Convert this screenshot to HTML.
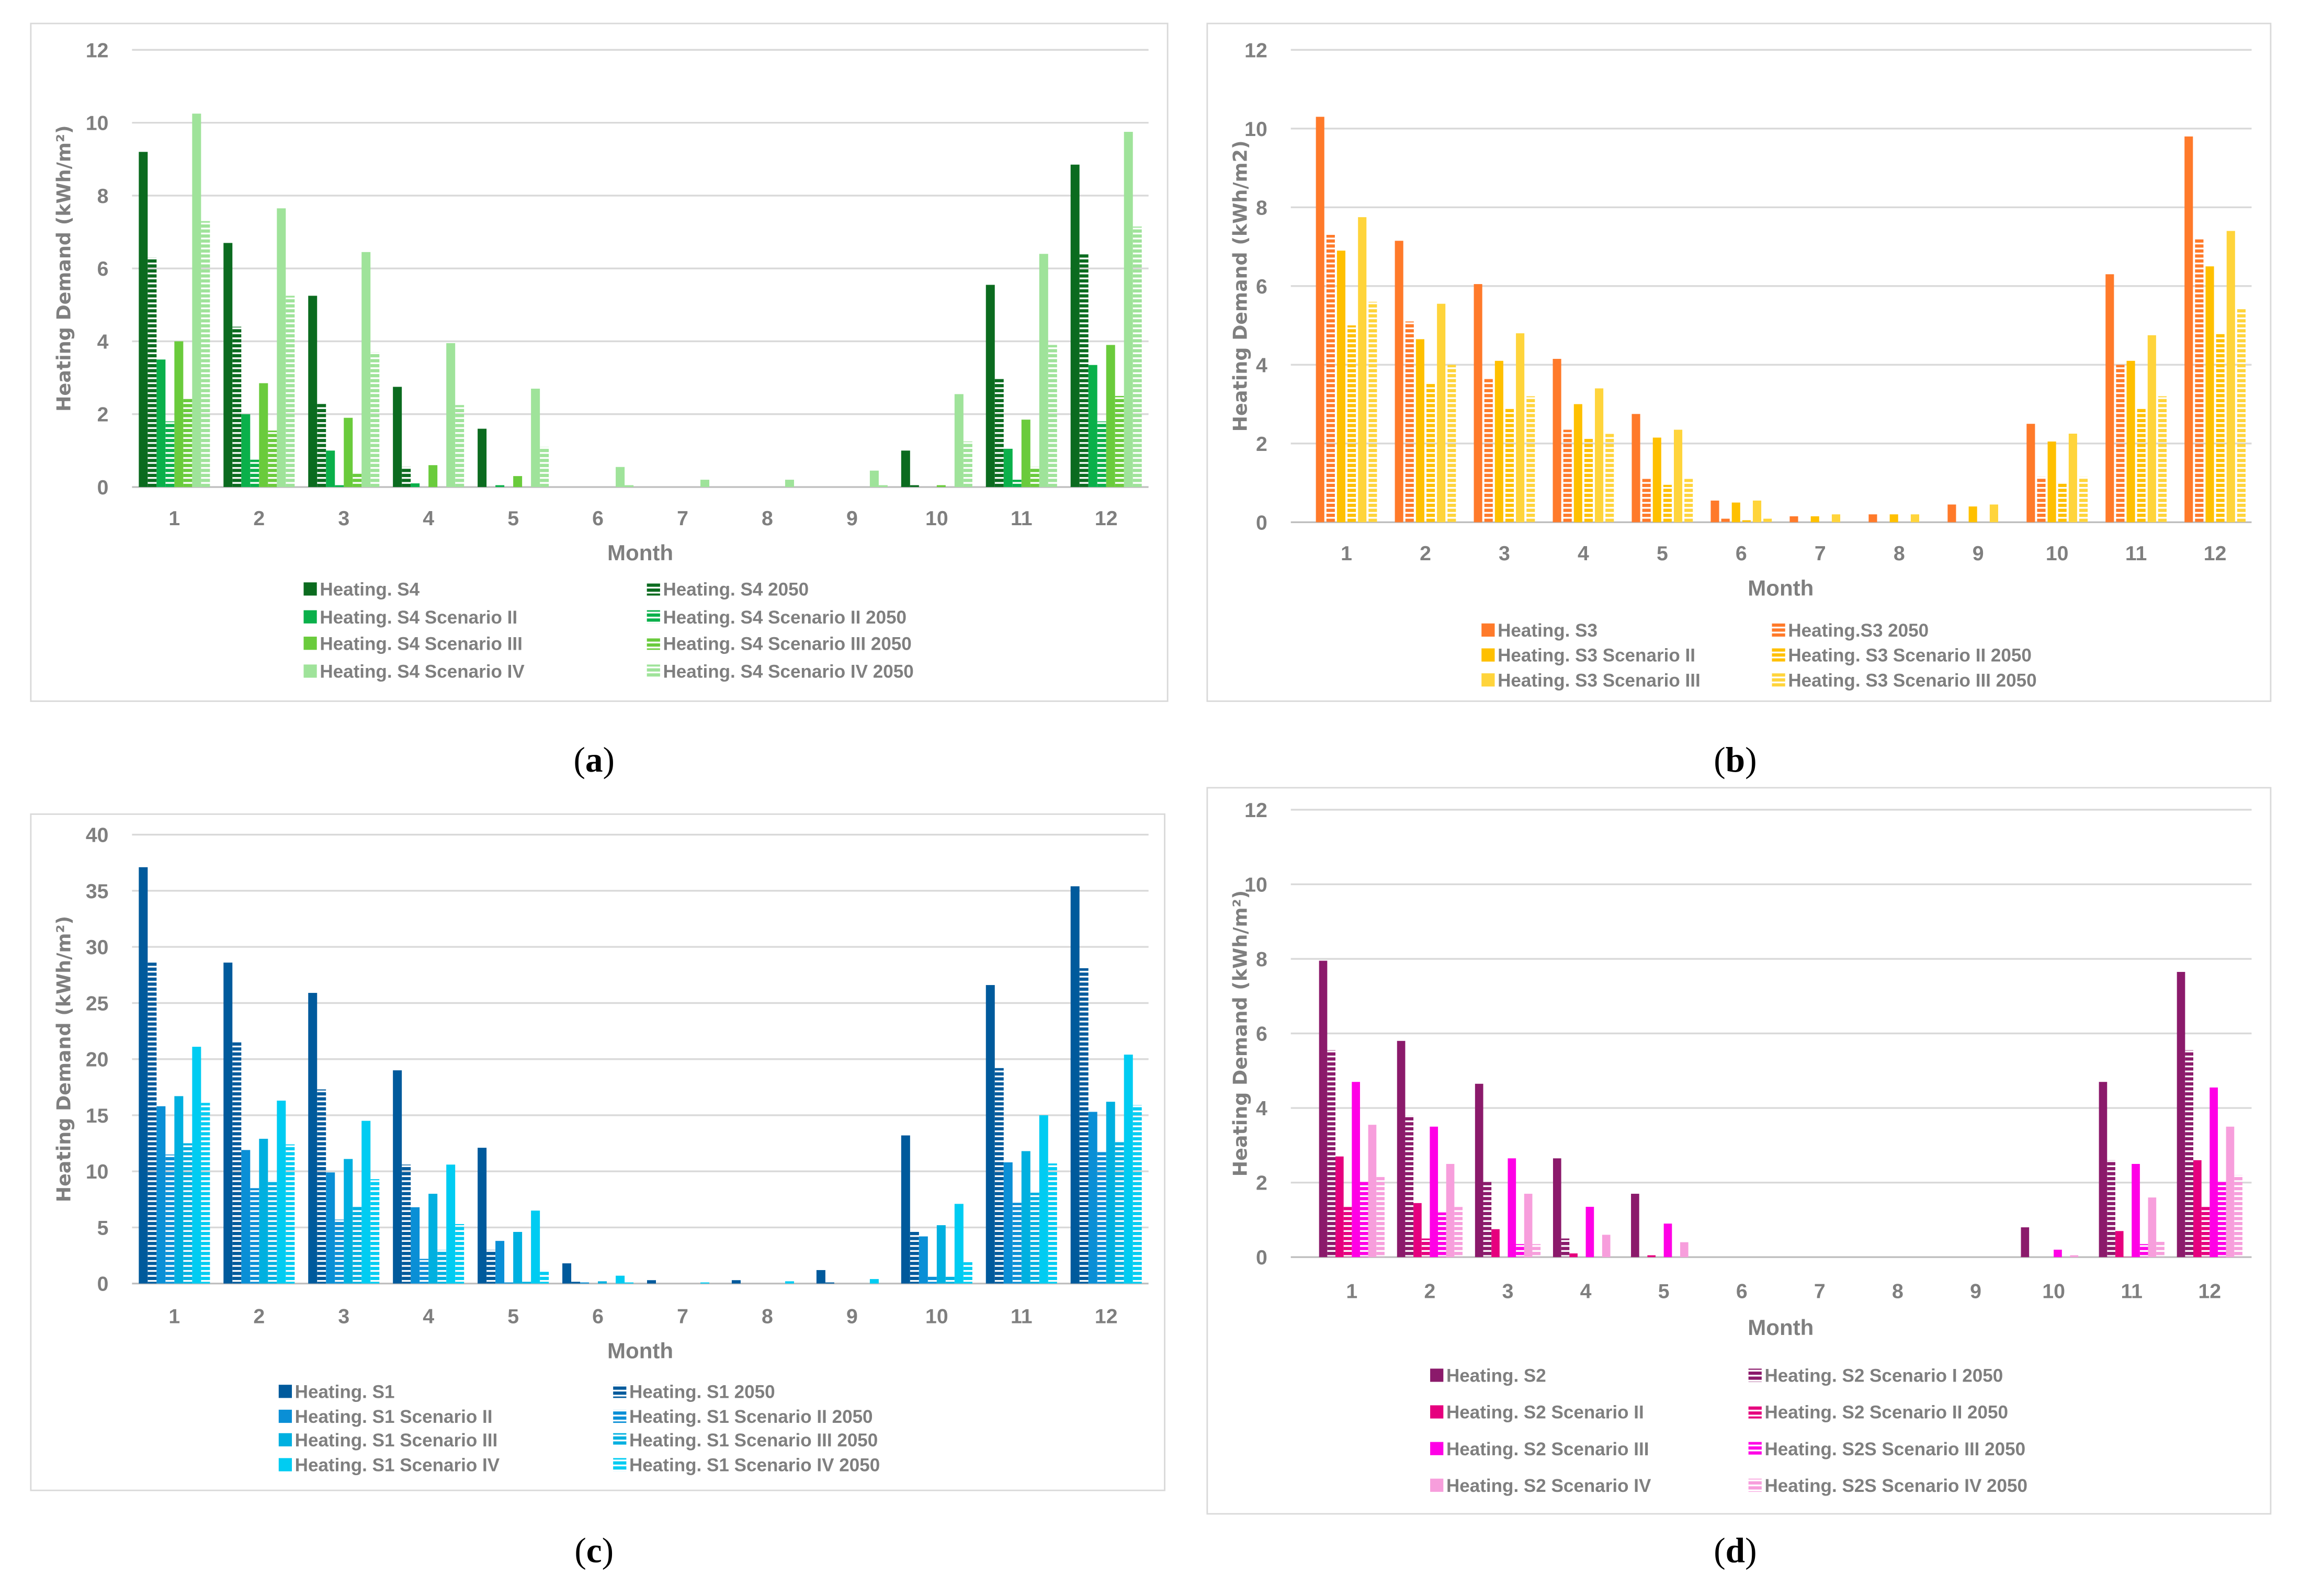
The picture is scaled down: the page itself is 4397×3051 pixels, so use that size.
<!DOCTYPE html>
<html><head><meta charset="utf-8"><style>
html,body{margin:0;padding:0;background:#fff;}
svg{display:block;}
.tk{font-family:"Liberation Sans Narrow","Liberation Sans",sans-serif;font-stretch:condensed;fill:#7f7f7f;font-size:14px;font-weight:bold;}
.lg{font-family:"Liberation Sans Narrow","Liberation Sans",sans-serif;font-stretch:condensed;fill:#7f7f7f;font-size:12.5px;font-weight:bold;}
.yt{font-family:"DejaVu Sans",sans-serif;fill:#7f7f7f;font-size:13px;font-weight:bold;}
.pl{font-family:"Liberation Serif",serif;font-size:24px;fill:#000;}
</style></head><body>
<svg id="fig" width="4397" height="3051" viewBox="0 0 1568 1088" xmlns="http://www.w3.org/2000/svg"><defs id="defs"></defs></svg>
<script>
const months = ["1","2","3","4","5","6","7","8","9","10","11","12"];
const ticksA = [0,2,4,6,8,10,12];
const ticksC = [0,5,10,15,20,25,30,35,40];
// Panel a (S4)
const a_S4   = [9.2,6.7,5.25,2.75,1.6,0,0,0,0,1.0,5.55,8.85];
const a_S4_50= [6.3,4.4,2.3,0.55,0,0,0,0,0,0.05,3.0,6.4];
const a_II   = [3.5,2.0,1.0,0.1,0.05,0,0,0,0,0,1.05,3.35];
const a_II_50= [1.8,0.75,0.05,0,0,0,0,0,0,0,0.2,1.8];
const a_III  = [4.0,2.85,1.9,0.6,0.3,0,0,0,0,0.05,1.85,3.9];
const a_III_50=[2.45,1.55,0.4,0,0,0,0,0,0,0,0.55,2.5];
const a_IV   = [10.25,7.65,6.45,3.95,2.7,0.55,0.2,0.2,0.45,2.55,6.4,9.75];
const a_IV_50= [7.3,5.25,3.7,2.25,1.1,0.05,0,0,0.05,1.25,3.9,7.15];
// Panel b (S3)
const b_S3   = [10.3,7.15,6.05,4.15,2.75,0.55,0.15,0.2,0.45,2.5,6.3,9.8];
const b_S3_50= [7.3,5.1,3.65,2.35,1.1,0.1,0,0,0,1.15,4.0,7.2];
const b_II   = [6.9,4.65,4.1,3.0,2.15,0.5,0.15,0.2,0.4,2.05,4.1,6.5];
const b_II_50= [5.0,3.55,2.9,2.15,0.95,0.05,0,0,0,1.0,2.9,4.8];
const b_III  = [7.75,5.55,4.8,3.4,2.35,0.55,0.2,0.2,0.45,2.25,4.75,7.4];
const b_III_50=[5.6,4.0,3.2,2.25,1.1,0.1,0,0,0,1.15,3.2,5.45];
// Panel c (S1)
const c_S1   = [37.1,28.6,25.9,19.0,12.1,1.8,0.3,0.3,1.2,13.2,26.6,35.4];
const c_S1_50= [28.6,21.5,17.3,10.6,3.0,0.2,0,0,0.1,4.6,19.2,28.1];
const c_II   = [15.8,11.9,9.9,6.8,3.8,0.1,0,0,0,4.2,10.8,15.3];
const c_II_50= [11.5,8.5,5.7,2.2,0.1,0,0,0,0,0.7,7.2,11.8];
const c_III  = [16.7,12.9,11.1,8.0,4.6,0.2,0,0,0,5.2,11.8,16.2];
const c_III_50=[12.5,9.2,6.9,3.0,0.2,0,0,0,0,0.7,8.1,12.6];
const c_IV   = [21.1,16.3,14.5,10.6,6.5,0.7,0.1,0.2,0.4,7.1,15.0,20.4];
const c_IV_50= [16.1,12.4,9.3,5.3,1.2,0.1,0,0,0,1.9,10.7,15.9];
// Panel d (S2)
const d_S2   = [7.95,5.8,4.65,2.65,1.7,0,0,0,0,0.8,4.7,7.65];
const d_S2_50= [5.55,3.8,2.05,0.5,0,0,0,0,0,0,2.6,5.55];
const d_II   = [2.7,1.45,0.75,0.1,0.05,0,0,0,0,0,0.7,2.6];
const d_II_50= [1.35,0.5,0,0,0,0,0,0,0,0,0.05,1.35];
const d_III  = [4.7,3.5,2.65,1.35,0.9,0,0,0,0,0.2,2.5,4.55];
const d_III_50=[2.05,1.2,0.35,0,0,0,0,0,0,0,0.35,2.05];
const d_IV   = [3.55,2.5,1.7,0.6,0.4,0,0,0,0,0.05,1.6,3.5];
const d_IV_50= [2.15,1.35,0.35,0,0,0,0,0,0,0,0.45,2.2];

const NS="http://www.w3.org/2000/svg";
const svg=document.getElementById('fig');
const defs=document.getElementById('defs');
function el(tag,attrs,parent){const e=document.createElementNS(NS,tag);for(const k in attrs)e.setAttribute(k,attrs[k]);(parent||svg).appendChild(e);return e;}
let pid=0;
function stripe(color){
  const id='p'+(pid++);
  const p=el('pattern',{id:id,patternUnits:'userSpaceOnUse',width:4,height:3.4},defs);
  el('rect',{x:0,y:0,width:4,height:2.2,fill:color},p);
  return 'url(#'+id+')';
}
function panel(cfg){
  const g=el('g',{});
  
  
  const fr=el('rect',{x:cfg.box[0],y:cfg.box[1],width:cfg.box[2]-cfg.box[0],height:cfg.box[3]-cfg.box[1],fill:'#fff',stroke:'#d9d9d9','stroke-width':1},g);
  
  
  const max=cfg.ticks[cfg.ticks.length-1];
  const yS=v=>cfg.y0-(cfg.y0-cfg.yTop)*v/max;
  const band=(cfg.bx1-cfg.bx0)/12;
  const xS=i=>cfg.bx0+band*(i+0.5);
  cfg.ticks.forEach(t=>{
    const ln=el('line',{x1:cfg.x0,x2:cfg.x1,y1:yS(t),y2:yS(t),stroke:t===0?'#bfbfbf':'#d9d9d9','stroke-width':1.2},g);
    
    
    const tx=el('text',{x:cfg.x0-16,y:yS(t)+5,'text-anchor':'end',class:'tk'},g);
    
    
    tx.textContent=t;
  });
  const n=cfg.series.length;
  const gw=band*cfg.gfrac, bw=gw/n;
  cfg.series.forEach((s,si)=>{
    const fill=s.dash?stripe(s.color):s.color;
    s.data.forEach((v,i)=>{
      if(v<=0)return;
      const x=xS(i)-gw/2+si*bw;
      const r=el('rect',{x:x+bw*(1-cfg.bfrac)/2,y:yS(v),width:bw*cfg.bfrac,height:yS(0)-yS(v),fill:fill},g);
      
      
    });
  });
  months.forEach((m,i)=>{
    const tx=el('text',{x:xS(i),y:cfg.mY,'text-anchor':'middle',class:'tk'},g);
    
    
    tx.textContent=m;
  });
  const mt=el('text',{x:(cfg.bx0+cfg.bx1)/2,y:cfg.monthY,'text-anchor':'middle',class:'tk',style:'font-size:15px'},g);
  
  
  mt.textContent='Month';
  const yc=(cfg.y0+cfg.yTop)/2;
  const yt=el('text',{x:cfg.ytX,y:yc,'text-anchor':'middle',class:'yt',transform:'rotate(-90 '+cfg.ytX+' '+yc+')'},g);
  
  
  yt.textContent=cfg.ytitle;
  cfg.series.forEach((s,si)=>{
    const col=si%2, row=Math.floor(si/2);
    const lx=cfg.legX[col], ly=cfg.legY[row];
    const lg=el('g',{},g);
    
    
    el('rect',{x:lx,y:ly-8,width:9,height:9,fill:s.dash?stripe(s.color):s.color},lg);
    const t=el('text',{x:lx+11,y:ly+1,class:'lg'},lg);
    t.textContent=s.label;
  });
  const pl=el('text',{x:cfg.pl[0],y:cfg.pl[1],'text-anchor':'middle',class:'pl'},g);
  
  
  pl.innerHTML='(<tspan font-weight="bold">'+cfg.letter+'</tspan>)';
}
panel({name:'chart-a-s4',box:[21,16,796,478],x0:90,x1:783,bx0:90,bx1:783,y0:332,yTop:34,ticks:ticksA,mY:358,monthY:382,ytX:48,
  ytitle:'Heating Demand (kWh/m²)',gfrac:0.84,bfrac:1,legX:[207,441],legY:[405,424,442,461],pl:[405,526],letter:'a',
  series:[{label:'Heating. S4',data:a_S4,color:'#0b6b1f'},{label:'Heating. S4 2050',data:a_S4_50,color:'#0b6b1f',dash:1},
  {label:'Heating. S4 Scenario II',data:a_II,color:'#0ab04a'},{label:'Heating. S4 Scenario II 2050',data:a_II_50,color:'#0ab04a',dash:1},
  {label:'Heating. S4 Scenario III',data:a_III,color:'#6acb3c'},{label:'Heating. S4 Scenario III 2050',data:a_III_50,color:'#6acb3c',dash:1},
  {label:'Heating. S4 Scenario IV',data:a_IV,color:'#9fe39a'},{label:'Heating. S4 Scenario IV 2050',data:a_IV_50,color:'#9fe39a',dash:1}]});
panel({name:'chart-b-s3',box:[823,16,1548,478],x0:880,x1:1535,bx0:891,bx1:1537,y0:356,yTop:34,ticks:ticksA,mY:382,monthY:406,ytX:850,
  ytitle:'Heating Demand (kWh/m2)',gfrac:0.8,bfrac:0.8,legX:[1010,1208],legY:[433,450,467],pl:[1183,526],letter:'b',
  series:[{label:'Heating. S3',data:b_S3,color:'#ff7a2a'},{label:'Heating.S3 2050',data:b_S3_50,color:'#ff7a2a',dash:1},
  {label:'Heating. S3 Scenario II',data:b_II,color:'#ffc000'},{label:'Heating. S3 Scenario II 2050',data:b_II_50,color:'#ffc000',dash:1},
  {label:'Heating. S3 Scenario III',data:b_III,color:'#ffd43b'},{label:'Heating. S3 Scenario III 2050',data:b_III_50,color:'#ffd43b',dash:1}]});
panel({name:'chart-c-s1',box:[21,555,794,1016],x0:90,x1:783,bx0:90,bx1:783,y0:875,yTop:569,ticks:ticksC,mY:902,monthY:926,ytX:48,
  ytitle:'Heating Demand (kWh/m²)',gfrac:0.84,bfrac:1,legX:[190,418],legY:[952,969,985,1002],pl:[405,1065],letter:'c',
  series:[{label:'Heating. S1',data:c_S1,color:'#005a9c'},{label:'Heating. S1 2050',data:c_S1_50,color:'#005a9c',dash:1},
  {label:'Heating. S1 Scenario II',data:c_II,color:'#0a8fd6'},{label:'Heating. S1 Scenario II 2050',data:c_II_50,color:'#0a8fd6',dash:1},
  {label:'Heating. S1 Scenario III',data:c_III,color:'#00b0e0'},{label:'Heating. S1 Scenario III 2050',data:c_III_50,color:'#00b0e0',dash:1},
  {label:'Heating. S1 Scenario IV',data:c_IV,color:'#00ccf2'},{label:'Heating. S1 Scenario IV 2050',data:c_IV_50,color:'#00ccf2',dash:1}]});
panel({name:'chart-d-s2',box:[823,537,1548,1032],x0:880,x1:1535,bx0:895,bx1:1533,y0:857,yTop:552,ticks:ticksA,mY:885,monthY:910,ytX:850,
  ytitle:'Heating Demand (kWh/m²)',gfrac:0.84,bfrac:1,legX:[975,1192],legY:[941,966,991,1016],pl:[1183,1065],letter:'d',
  series:[{label:'Heating. S2',data:d_S2,color:'#8b1a6b'},{label:'Heating. S2 Scenario I 2050',data:d_S2_50,color:'#8b1a6b',dash:1},
  {label:'Heating. S2 Scenario II',data:d_II,color:'#e6007e'},{label:'Heating. S2 Scenario II 2050',data:d_II_50,color:'#e6007e',dash:1},
  {label:'Heating. S2 Scenario III',data:d_III,color:'#ff00e6'},{label:'Heating. S2S Scenario III 2050',data:d_III_50,color:'#ff00e6',dash:1},
  {label:'Heating. S2 Scenario IV',data:d_IV,color:'#f79edc'},{label:'Heating. S2S Scenario IV 2050',data:d_IV_50,color:'#f79edc',dash:1}]});
</script>
</body></html>
